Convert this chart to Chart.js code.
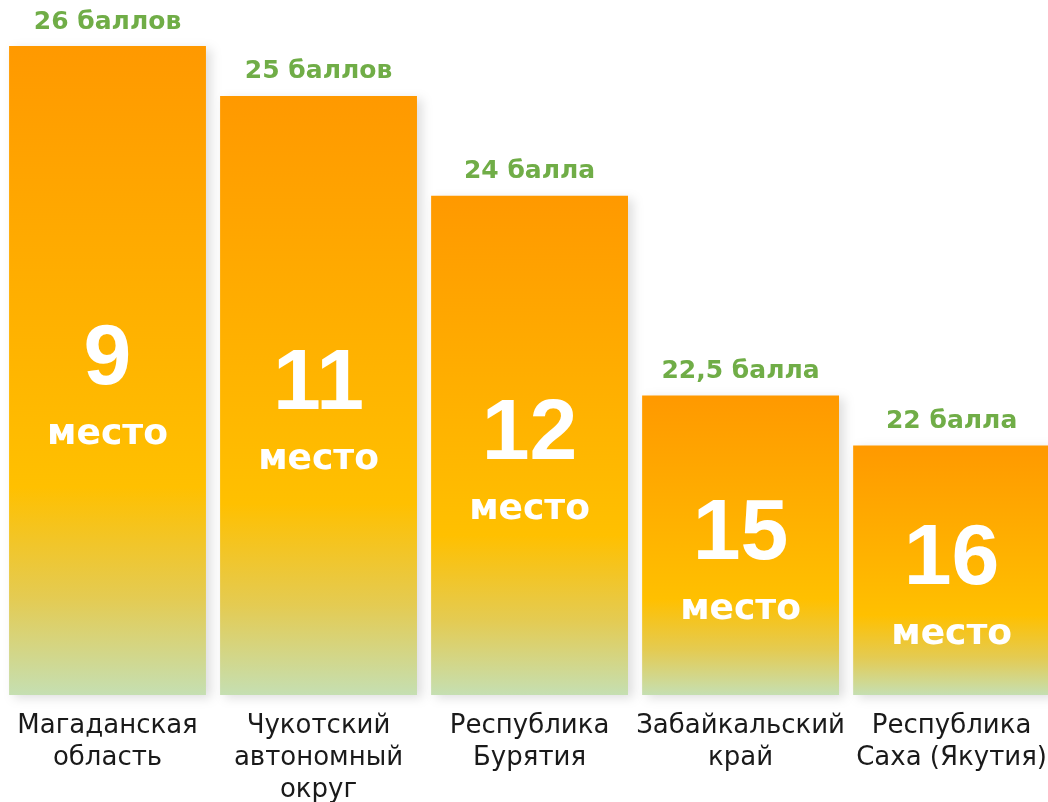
<!DOCTYPE html>
<html lang="ru">
<head>
<meta charset="utf-8">
<title>Рейтинг регионов</title>
<script src="https://cdn.jsdelivr.net/npm/chart.js@4/dist/chart.umd.min.js"></script>
<style>
    html, body { margin: 0; padding: 0; background: #fff; overflow: hidden; }
    #frame { width: 1048px; height: 802px; overflow: hidden; position: relative; }
    #wrap { width: 1062px; height: 821px; position: absolute; left: 0; top: 0; }
</style>
</head>
<body>
<div id="frame"><div id="wrap"><canvas id="rating" width="1062" height="821"></canvas></div></div>
<script>
// данные
const regions = [
    ['Магаданская', 'область'],
    ['Чукотский', 'автономный', 'округ'],
    ['Республика', 'Бурятия'],
    ['Забайкальский', 'край'],
    ['Республика', 'Саха (Якутия)']
];
const scores = [26, 25, 24, 22.5, 22];
const scoreWords = ['баллов', 'баллов', 'балла', 'балла', 'балла'];
const places = [9, 11, 12, 15, 16];
// длина столбцов так, как они нарисованы на картинке (в условных делениях)
const barHeight = [13, 12, 10, 6, 5];

const GREEN = '#70AD47';
const TEXT_FONT = '"DejaVu Sans", sans-serif';
const NUM_FONT = '"Liberation Sans", Arial, sans-serif';

function barGradient(context) {
    const chart = context.chart;
    if (!chart.chartArea) return '#FFC000';
    const y = chart.scales.y;
    const top = y.getPixelForValue(barHeight[context.dataIndex]);
    const base = y.getPixelForValue(0);
    const g = chart.ctx.createLinearGradient(0, top, 0, base);
    g.addColorStop(0, '#FF9900');
    g.addColorStop(0.68, '#FFC000');
    g.addColorStop(0.85, '#E4CB52');
    g.addColorStop(1, '#C5DFB2');
    return g;
}

// тень под столбцами и подписи
const barLabels = {
    id: 'barLabels',
    beforeDatasetsDraw(chart) {
        const ctx = chart.ctx;
        ctx.save();
        ctx.shadowColor = 'rgba(0, 0, 0, 0.13)';
        ctx.shadowBlur = 10;
        ctx.shadowOffsetX = 5;
        ctx.shadowOffsetY = 3;
    },
    afterDatasetsDraw(chart) {
        const ctx = chart.ctx;
        ctx.restore();
        const meta = chart.getDatasetMeta(0);
        ctx.save();
        ctx.textAlign = 'center';
        ctx.textBaseline = 'middle';
        meta.data.forEach((bar, i) => {
            const mid = (bar.y + bar.base) / 2;

            ctx.fillStyle = GREEN;
            ctx.font = 'bold 25px ' + TEXT_FONT;
            const s = String(scores[i]).replace('.', ',');
            ctx.fillText(s + ' ' + scoreWords[i], bar.x, bar.y - 24);

            ctx.fillStyle = '#ffffff';
            ctx.font = 'bold 86px ' + NUM_FONT;
            ctx.fillText(String(places[i]), bar.x, mid - 10);
            ctx.font = 'bold 36px ' + TEXT_FONT;
            ctx.fillText('место', bar.x, mid + 64);
        });
        ctx.restore();
    }
};

new Chart(document.getElementById('rating'), {
    type: 'bar',
    data: {
        labels: regions,
        datasets: [{
            data: barHeight,
            backgroundColor: barGradient,
            borderWidth: 0,
            categoryPercentage: 1,
            barPercentage: 0.933,
            clip: false
        }]
    },
    options: {
        responsive: false,
        maintainAspectRatio: false,
        animation: false,
        layout: {
            padding: { left: 2, right: 0, top: 46, bottom: 0 }
        },
        plugins: {
            legend: { display: false },
            tooltip: { enabled: false }
        },
        scales: {
            x: {
                grid: { display: false, drawTicks: false },
                border: { display: false },
                ticks: {
                    color: '#1a1a1a',
                    padding: 15,
                    maxRotation: 0,
                    autoSkip: false,
                    font: { family: TEXT_FONT, size: 26, lineHeight: 1.23 }
                }
            },
            y: {
                display: false,
                min: 0,
                max: 13
            }
        }
    },
    plugins: [barLabels]
});
</script>
</body>
</html>
